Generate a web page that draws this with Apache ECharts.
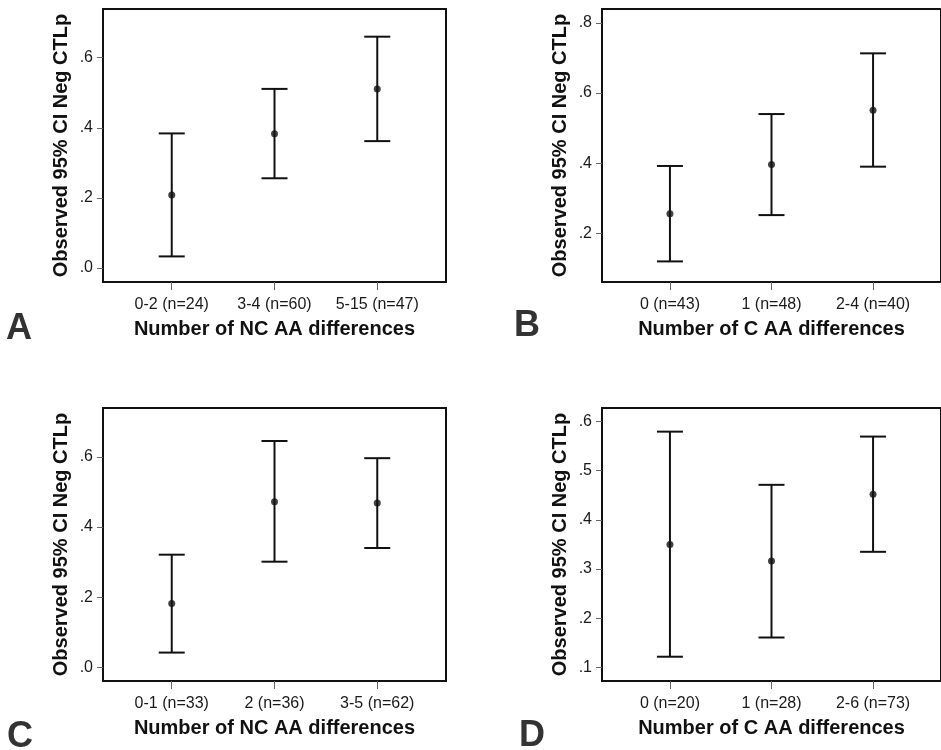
<!DOCTYPE html>
<html>
<head>
<meta charset="utf-8">
<style>
    html, body { margin: 0; padding: 0; background: #fff; }
    #chart { width: 941px; height: 750px; }
</style>
</head>
<body>
<div id="chart"></div>
<script src="https://cdn.jsdelivr.net/npm/echarts@6/dist/echarts.min.js"></script>
<script>
    // panel A
    var catsA = ['0-2 (n=24)', '3-4 (n=60)', '5-15 (n=47)'];
    var meanA = [0.208, 0.383, 0.511];
    var lowA = [0.033, 0.256, 0.362];
    var highA = [0.384, 0.511, 0.660];
    var ticksA = [0, 0.2, 0.4, 0.6];

    // panel B
    var catsB = ['0 (n=43)', '1 (n=48)', '2-4 (n=40)'];
    var meanB = [0.256, 0.396, 0.551];
    var lowB = [0.120, 0.252, 0.390];
    var highB = [0.392, 0.540, 0.713];
    var ticksB = [0.2, 0.4, 0.6, 0.8];

    // panel C
    var catsC = ['0-1 (n=33)', '2 (n=36)', '3-5 (n=62)'];
    var meanC = [0.182, 0.472, 0.468];
    var lowC = [0.042, 0.301, 0.340];
    var highC = [0.321, 0.645, 0.596];
    var ticksC = [0, 0.2, 0.4, 0.6];

    // panel D
    var catsD = ['0 (n=20)', '1 (n=28)', '2-6 (n=73)'];
    var meanD = [0.350, 0.3165, 0.452];
    var lowD = [0.122, 0.161, 0.335];
    var highD = [0.579, 0.471, 0.569];
    var ticksD = [0.1, 0.2, 0.3, 0.4, 0.5, 0.6];

    var font = '"Liberation Sans", Arial, Helvetica, sans-serif';
    var yTitle = 'Observed 95% CI Neg CTLp';

    var panels = [
        {cats: catsA, mean: meanA, low: lowA, high: highA, ticks: ticksA, min: -0.04, max: 0.739,
            xName: 'Number of NC AA differences', left: 103, top: 9, letter: 'A', lx: 19, ly: 329},
        {cats: catsB, mean: meanB, low: lowB, high: highB, ticks: ticksB, min: 0.0613, max: 0.8394,
            xName: 'Number of C AA differences', left: 602, top: 9, letter: 'B', lx: 527, ly: 326},
        {cats: catsC, mean: meanC, low: lowC, high: highC, ticks: ticksC, min: -0.039, max: 0.739,
            xName: 'Number of NC AA differences', left: 103, top: 408, letter: 'C', lx: 20, ly: 737},
        {cats: catsD, mean: meanD, low: lowD, high: highD, ticks: ticksD, min: 0.0727, max: 0.627,
            xName: 'Number of C AA differences', left: 602, top: 408, letter: 'D', lx: 532, ly: 736}
    ];

    var grid = [], xAxis = [], yAxis = [], series = [], graphic = [];

    panels.forEach(function (p, i) {
        grid.push({
            left: p.left, top: p.top, width: 343, height: 273,
            show: true, borderColor: '#111', borderWidth: 2, backgroundColor: '#fff'
        });
        xAxis.push({
            gridIndex: i, type: 'value', min: -0.669, max: 2.669,
            axisLine: {show: false, onZero: false},
            splitLine: {show: false},
            axisTick: {show: true, length: 8, customValues: [0, 1, 2], lineStyle: {color: '#666'}},
            axisLabel: {
                customValues: [0, 1, 2], margin: 15, fontSize: 16, color: '#1a1a1a', fontFamily: font,
                formatter: function (v) { return p.cats[Math.round(v)]; }
            },
            name: p.xName, nameLocation: 'middle', nameGap: 37,
            nameTextStyle: {fontSize: 20, fontWeight: 'bold', color: '#111', fontFamily: font}
        });
        yAxis.push({
            gridIndex: i, type: 'value', min: p.min, max: p.max,
            axisLine: {show: false, onZero: false},
            splitLine: {show: false},
            axisTick: {show: true, length: 6, customValues: p.ticks, lineStyle: {color: '#666'}},
            axisLabel: {
                customValues: p.ticks, margin: 10, fontSize: 16, color: '#1a1a1a', fontFamily: font,
                formatter: function (v) { return v.toFixed(1).replace(/^0/, ''); }
            },
            name: yTitle, nameLocation: 'middle', nameGap: 32,
            nameTextStyle: {fontSize: 20, fontWeight: 'bold', color: '#111', fontFamily: font}
        });

        var bars = p.cats.map(function (c, k) { return [k, p.low[k], p.high[k]]; });
        var pts = p.cats.map(function (c, k) { return [k, p.mean[k]]; });

        series.push({
            type: 'custom', xAxisIndex: i, yAxisIndex: i, data: bars,
            encode: {x: 0, y: [1, 2]},
            renderItem: function (params, api) {
                var x = api.value(0);
                var hi = api.coord([x, api.value(2)]);
                var lo = api.coord([x, api.value(1)]);
                var hw = 13;
                var st = {stroke: '#111', lineWidth: 2};
                return {
                    type: 'group', children: [
                        {type: 'line', shape: {x1: hi[0], y1: hi[1], x2: lo[0], y2: lo[1]}, style: st},
                        {type: 'line', shape: {x1: hi[0] - hw, y1: hi[1], x2: hi[0] + hw, y2: hi[1]}, style: st},
                        {type: 'line', shape: {x1: lo[0] - hw, y1: lo[1], x2: lo[0] + hw, y2: lo[1]}, style: st}
                    ]
                };
            }
        });
        series.push({
            type: 'scatter', xAxisIndex: i, yAxisIndex: i, data: pts,
            symbol: 'circle', symbolSize: 7, itemStyle: {color: '#111'}, z: 5
        });

        graphic.push({
            type: 'text', x: p.lx, y: p.ly,
            style: {
                text: p.letter, fill: '#333', font: 'bold 36px ' + font,
                textAlign: 'center', textVerticalAlign: 'middle'
            }
        });
    });

    var chart = echarts.init(document.getElementById('chart'));
    chart.setOption({
        backgroundColor: '#fff',
        animation: false,
        grid: grid,
        xAxis: xAxis,
        yAxis: yAxis,
        series: series,
        graphic: graphic
    });
</script>
</body>
</html>
